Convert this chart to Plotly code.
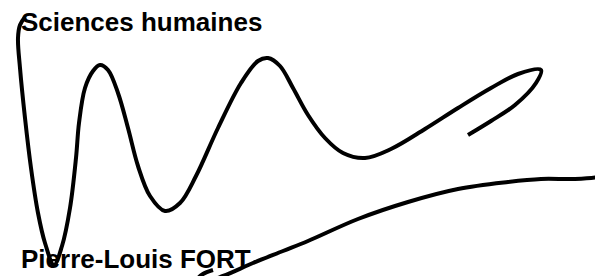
import plotly.graph_objects as go

# Signature stroke 1 (pixel-space data coordinates)
stroke1_x = [17, 12, 10, 12, 17, 23, 30, 37, 46, 54, 62, 68, 71, 77, 85, 92, 100, 110, 120, 130, 142, 157, 172, 188, 210, 233, 250, 260, 272, 285, 300, 317, 335, 357, 383, 417, 450, 483, 510, 533, 528, 507, 483, 460]
stroke1_y = [9, 17, 30, 60, 110, 160, 205, 235, 257, 238, 200, 150, 115, 80, 63, 57, 62, 85, 120, 158, 188, 203, 195, 168, 120, 75, 53, 50, 58, 80, 107, 130, 145, 150, 141, 121, 100, 80, 66, 62, 75, 97, 113, 127]

# Signature stroke 2
stroke2_x = [205, 195, 190, 198, 215, 245, 275, 300, 350, 400, 450, 500, 533, 567, 590, 596, 595]
stroke2_y = [262, 266, 271, 273, 268, 255, 243, 233, 211, 194, 181, 174, 171, 171, 169, 167, 162]

title_text = "Sciences humaines"
author_text = "Pierre-Louis FORT"

fig = go.Figure()
for xs, ys in [(stroke1_x, stroke1_y), (stroke2_x, stroke2_y)]:
    fig.add_trace(go.Scatter(x=xs, y=ys, mode="lines",
                             line=dict(color="black", width=4, shape="spline", smoothing=1.0),
                             hoverinfo="skip", showlegend=False))

font = dict(family="Liberation Sans, Arial, sans-serif", size=26, color="black")
fig.add_annotation(x=12, y=1.0072, xref="x", yref="paper", text="<b>%s</b>" % title_text,
                   showarrow=False, xanchor="left", yanchor="top", font=font, borderpad=0)
fig.add_annotation(x=12, y=266.5, xref="x", yref="y", text="<b>%s</b>" % author_text,
                   showarrow=False, xanchor="left", yanchor="bottom", font=font, borderpad=0)

fig.update_layout(width=603, height=276, margin=dict(l=0, r=0, t=0, b=0),
                  paper_bgcolor="white", plot_bgcolor="white",
                  xaxis=dict(range=[0, 603], visible=False, fixedrange=True),
                  yaxis=dict(range=[276, 0], visible=False, fixedrange=True))
fig.write_html("out.html")
